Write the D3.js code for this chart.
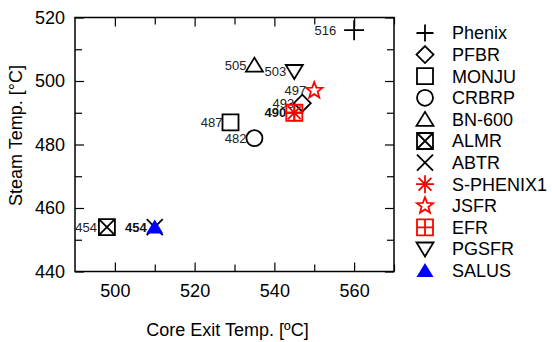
<!DOCTYPE html>
<html>
<head>
<meta charset="utf-8">
<script src="https://cdn.jsdelivr.net/npm/d3@7"></script>
<style>
  body { margin: 0; background: #fff; }
  text { font-family: "Liberation Sans", Arial, sans-serif; }
</style>
</head>
<body>
<div id="chart"></div>
<script>
// reactor data
const reactors = ["Phenix", "PFBR", "MONJU", "CRBRP", "BN-600", "ALMR", "ABTR", "S-PHENIX1", "JSFR", "EFR", "PGSFR", "SALUS"];
const coreExit = [560, 547, 529, 535, 535, 498, 510, 545, 550, 545, 545, 510];
const steamTemp = [516, 493, 487, 482, 505, 454, 454, 490, 497, 490, 503, 454];
const symbols = ["plus", "diamond", "square", "circle", "triangle", "boxx", "cross", "asterisk", "star", "boxplus", "triangledown", "filledtriangle"];
const colors = ["#000", "#000", "#000", "#000", "#000", "#000", "#000", "#f00", "#f00", "#f00", "#000", "#00f"];

const xTicks = [500, 520, 540, 560];
const xMinor = [510, 530, 550, 570];
const yTicks = [440, 460, 480, 500, 520];
const yMinor = [450, 470, 490, 510];

const W = 552, H = 342;
const margin = { top: 17.5, right: 158, bottom: 70.5, left: 75 };

const svg = d3.select("#chart").append("svg")
  .attr("width", W).attr("height", H);

const x = d3.scaleLinear().domain([490, 570]).range([margin.left, W - margin.right]);
const y = d3.scaleLinear().domain([440, 520]).range([H - margin.bottom, margin.top]);

// symbol paths centred at 0,0
function symbolPath(type, big) {
  const s = 8;
  switch (type) {
    case "plus": { const r = big ? 10 : 8.5; return `M${-r},0H${r}M0,${-r}V${r}`; }
    case "diamond": return `M0,-8.5L8.5,0L0,8.5L-8.5,0Z`;
    case "square": return `M${-s},${-s}H${s}V${s}H${-s}Z`;
    case "circle": return d3.arc()({ innerRadius: 0, outerRadius: 8, startAngle: 0, endAngle: 2 * Math.PI });
    case "triangle":
    case "filledtriangle": return `M0,-7.5L8.5,6.5L-8.5,6.5Z`;
    case "triangledown": return `M0,7.5L8.5,-6.5L-8.5,-6.5Z`;
    case "boxx": return `M${-s},${-s}H${s}V${s}H${-s}ZM${-s},${-s}L${s},${s}M${s},${-s}L${-s},${s}`;
    case "cross": return `M-8,-8L8,8M8,-8L-8,8`;
    case "asterisk": return `M-9,0H9M0,-9V9M-6.4,-6.4L6.4,6.4M6.4,-6.4L-6.4,6.4`;
    case "boxplus": return `M${-s},${-s}H${s}V${s}H${-s}ZM${-s},0H${s}M0,${-s}V${s}`;
    case "star": {
      let p = "";
      for (let i = 0; i < 10; i++) {
        const r = i % 2 === 0 ? 8.5 : 3.6;
        const a = i * Math.PI / 5;
        p += (i ? "L" : "M") + (r * Math.sin(a)).toFixed(2) + "," + (-r * Math.cos(a)).toFixed(2);
      }
      return p + "Z";
    }
  }
}

function drawSymbol(g, type, color, big) {
  g.append("path")
    .attr("d", symbolPath(type, big))
    .attr("fill", type === "filledtriangle" ? color : "none")
    .attr("stroke", color)
    .attr("stroke-width", type === "filledtriangle" ? 0 : 1.8)
    .attr("stroke-linejoin", "miter");
}

// axes with inward ticks
function styleAxis(g) {
  g.select(".domain").remove();
  g.selectAll(".tick line").attr("stroke", "#000").attr("stroke-width", 1.2);
  g.selectAll(".tick text").attr("font-size", 18).attr("fill", "#000")
    .attr("font-family", "Liberation Sans, Arial, sans-serif");
}

const plotBottom = H - margin.bottom, plotTop = margin.top, plotLeft = margin.left, plotRight = W - margin.right;

svg.append("g").attr("transform", `translate(0,${plotBottom})`)
  .call(d3.axisBottom(x).tickValues(xTicks).tickSize(-9).tickSizeOuter(0).tickPadding(12.5))
  .call(styleAxis);
svg.append("g").attr("transform", `translate(0,${plotBottom})`)
  .call(d3.axisBottom(x).tickValues(xMinor).tickSize(-7).tickFormat(""))
  .call(styleAxis);
svg.append("g").attr("transform", `translate(0,${plotTop})`)
  .call(d3.axisTop(x).tickValues(xTicks).tickSize(-9).tickFormat(""))
  .call(styleAxis);
svg.append("g").attr("transform", `translate(0,${plotTop})`)
  .call(d3.axisTop(x).tickValues(xMinor).tickSize(-7).tickFormat(""))
  .call(styleAxis);

svg.append("g").attr("transform", `translate(${plotLeft},0)`)
  .call(d3.axisLeft(y).tickValues(yTicks).tickSize(-9).tickSizeOuter(0).tickPadding(10))
  .call(styleAxis);
svg.append("g").attr("transform", `translate(${plotLeft},0)`)
  .call(d3.axisLeft(y).tickValues(yMinor).tickSize(-7).tickFormat(""))
  .call(styleAxis);
svg.append("g").attr("transform", `translate(${plotRight},0)`)
  .call(d3.axisRight(y).tickValues(yTicks).tickSize(-9).tickFormat(""))
  .call(styleAxis);
svg.append("g").attr("transform", `translate(${plotRight},0)`)
  .call(d3.axisRight(y).tickValues(yMinor).tickSize(-7).tickFormat(""))
  .call(styleAxis);

// frame
svg.append("rect")
  .attr("x", plotLeft).attr("y", plotTop)
  .attr("width", plotRight - plotLeft).attr("height", plotBottom - plotTop)
  .attr("fill", "none").attr("stroke", "#000").attr("stroke-width", 1.5);

// axis titles
svg.append("text")
  .attr("x", (plotLeft + plotRight) / 2 - 7).attr("y", 336)
  .attr("text-anchor", "middle").attr("font-size", 18)
  .text("Core Exit Temp. [ºC]");
svg.append("text")
  .attr("transform", `translate(22,${(plotTop + plotBottom) / 2 - 9}) rotate(-90)`)
  .attr("text-anchor", "middle").attr("font-size", 18)
  .text("Steam Temp. [°C]");

// value labels - points sharing a position get one label, drawn bold (looks like overprint)
const labelCount = d3.rollup(reactors.map((d, i) => i), v => v.length, i => coreExit[i] + "," + steamTemp[i]);
const labelDone = new Set();
reactors.forEach((name, i) => {
  const key = coreExit[i] + "," + steamTemp[i];
  if (labelDone.has(key)) return;
  labelDone.add(key);
  const off = name === "Phenix" ? 18 : (name === "ALMR" ? 10 : 8);
  svg.append("text")
    .attr("x", x(coreExit[i]) - off)
    .attr("y", y(steamTemp[i]))
    .attr("dy", "0.35em")
    .attr("text-anchor", "end")
    .attr("font-size", 13)
    .attr("font-weight", labelCount.get(key) > 1 ? "bold" : "normal")
    .attr("fill", labelCount.get(key) > 1 ? "#111" : "#222")
    .text(steamTemp[i]);
});

// points
reactors.forEach((name, i) => {
  const g = svg.append("g")
    .attr("transform", `translate(${x(coreExit[i])},${y(steamTemp[i])})`);
  drawSymbol(g, symbols[i], colors[i], true);
});

// legend
const legendX = 425, legendY = 33, legendStep = 21.6;
reactors.forEach((name, i) => {
  const g = svg.append("g")
    .attr("transform", `translate(${legendX},${legendY + i * legendStep})`);
  drawSymbol(g, symbols[i], colors[i], false);
  g.append("text")
    .attr("x", 27).attr("dy", "0.35em")
    .attr("font-size", 18)
    .text(name);
});
</script>
</body>
</html>
